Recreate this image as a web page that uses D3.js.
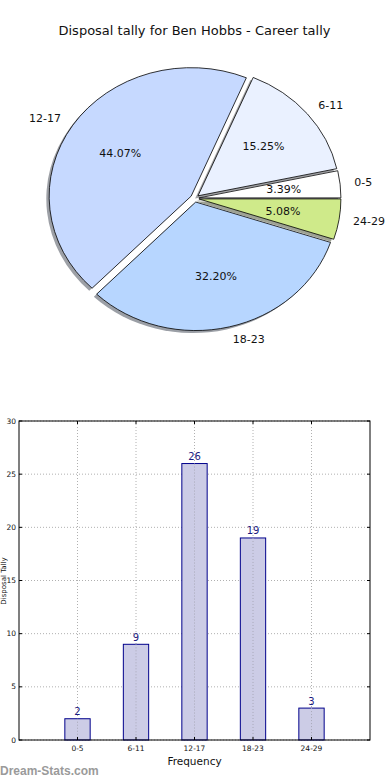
<!DOCTYPE html>
<html>
<head>
<meta charset="utf-8">
<script src="https://cdn.jsdelivr.net/npm/d3@7"></script>
<style>
  html, body { margin: 0; padding: 0; background: #fff; }
  svg { display: block; font-family: "DejaVu Sans", sans-serif; }
</style>
</head>
<body>
<svg id="chart" width="390" height="780"></svg>
<script>
// ---- data ----
const categories = ["0-5", "6-11", "12-17", "18-23", "24-29"];
const tally = [2, 9, 26, 19, 3];
const yTicks = [0, 5, 10, 15, 20, 25, 30];
const titleText = "Disposal tally for Ben Hobbs - Career tally";
const xLabel = "Frequency";
const yLabel = "Disposal Tally";
const watermark = "Dream-Stats.com";

// ---- styles ----
const pieColors = ["#ffffff", "#eaf1ff", "#c6d9ff", "#b7d6ff", "#cfea8a"];
const explodeFrac = 0.03;

const svg = d3.select("#chart");

// title
svg.append("text")
  .attr("x", 194.5).attr("y", 30)
  .attr("text-anchor", "middle")
  .attr("dominant-baseline", "central")
  .attr("font-size", 13)
  .attr("fill", "#111")
  .text(titleText);

// ---- pie (matplotlib-style, CCW from east, elliptical) ----
const cx = 194.7, cy = 198.3, rx = 142, ry = 128.5;
const total = d3.sum(tally);
const pieData = d3.pie().sort(null).value(d => d)(tally);
const arc = d3.arc().innerRadius(0).outerRadius(rx);

const pieG = svg.append("g")
  .attr("transform", `translate(${cx},${cy}) scale(1,${ry / rx})`);

pieData.forEach((d, i) => {
  const t1 = d.startAngle, t2 = d.endAngle;
  const tm = (t1 + t2) / 2;
  const ox = explodeFrac * rx * Math.cos(tm);
  const oy = -explodeFrac * rx * Math.sin(tm);
  const path = arc({ startAngle: Math.PI / 2 - t2, endAngle: Math.PI / 2 - t1 });
  const base = d3.rgb(pieColors[i]);
  const shade = d3.rgb(base.r * 0.3, base.g * 0.3, base.b * 0.3);
  pieG.append("path")
    .attr("d", path)
    .attr("transform", `translate(${ox - 0.02 * rx},${oy + 0.02 * rx})`)
    .attr("fill", shade.toString())
    .attr("fill-opacity", 0.5)
    .attr("stroke", "none");
  pieG.append("path")
    .attr("d", path)
    .attr("transform", `translate(${ox},${oy})`)
    .attr("fill", pieColors[i])
    .attr("stroke", "#000")
    .attr("stroke-width", 0.8)
    .attr("stroke-linejoin", "round")
    .attr("vector-effect", "non-scaling-stroke");
});

pieData.forEach((d, i) => {
  const tm = (d.startAngle + d.endAngle) / 2;
  const c = Math.cos(tm), s = Math.sin(tm);
  const lx = cx + (1.1 + explodeFrac) * rx * c;
  const ly = cy - (1.1 + explodeFrac) * ry * s;
  svg.append("text")
    .attr("x", lx).attr("y", ly)
    .attr("text-anchor", lx < cx ? "end" : "start")
    .attr("dominant-baseline", "central")
    .attr("font-size", 11)
    .attr("fill", "#111")
    .text(categories[i]);
  const px = cx + (0.6 + explodeFrac) * rx * c;
  const py = cy - (0.6 + explodeFrac) * ry * s;
  svg.append("text")
    .attr("x", px).attr("y", py)
    .attr("text-anchor", "middle")
    .attr("dominant-baseline", "central")
    .attr("font-size", 11)
    .attr("fill", "#111")
    .text((tally[i] / total * 100).toFixed(2) + "%");
});

// ---- bar chart ----
const pLeft = 19, pRight = 370, pTop = 421, pBottom = 740;
const x = d3.scaleLinear().domain([-1, categories.length]).range([pLeft, pRight]);
const y = d3.scaleLinear().domain([0, 30]).range([pBottom, pTop]);
const barW = 0.45;

const bg = svg.append("g");

// grid
bg.selectAll("line.hgrid").data(yTicks).join("line")
  .attr("x1", pLeft).attr("x2", pRight)
  .attr("y1", d => y(d)).attr("y2", d => y(d))
  .attr("stroke", "#b0b0b0").attr("stroke-width", 1)
  .attr("stroke-dasharray", "1,2");
bg.selectAll("line.vgrid").data(categories).join("line")
  .attr("x1", (d, i) => x(i)).attr("x2", (d, i) => x(i))
  .attr("y1", pTop).attr("y2", pBottom)
  .attr("stroke", "#b0b0b0").attr("stroke-width", 1)
  .attr("stroke-dasharray", "1,2");

// bars
bg.selectAll("rect.bar").data(tally).join("rect")
  .attr("x", (d, i) => x(i - barW / 2) + 0.5)
  .attr("width", (d, i) => x(i + barW / 2) - x(i - barW / 2) - 1)
  .attr("y", d => y(d))
  .attr("height", d => pBottom - y(d))
  .attr("fill", "#cccce6")
  .attr("stroke", "#00008b")
  .attr("stroke-width", 1);

// grid over bars
bg.selectAll("line.vgrid2").data(categories).join("line")
  .attr("x1", (d, i) => x(i)).attr("x2", (d, i) => x(i))
  .attr("y1", (d, i) => y(tally[i])).attr("y2", pBottom)
  .attr("stroke", "#a8a8b8").attr("stroke-width", 1)
  .attr("stroke-dasharray", "1,2");

// value labels
bg.selectAll("text.val").data(tally).join("text")
  .attr("x", (d, i) => x(i))
  .attr("y", d => y(d) - 7)
  .attr("text-anchor", "middle")
  .attr("dominant-baseline", "central")
  .attr("font-size", 10)
  .attr("fill", "#1a1a80")
  .text(d => d);

// frame
bg.append("rect")
  .attr("x", pLeft).attr("y", pTop)
  .attr("width", pRight - pLeft).attr("height", pBottom - pTop)
  .attr("fill", "none").attr("stroke", "#000").attr("stroke-width", 1);

// ticks (inward, all sides)
yTicks.forEach(t => {
  bg.append("line").attr("x1", pLeft).attr("x2", pLeft + 3).attr("y1", y(t)).attr("y2", y(t)).attr("stroke", "#000");
  bg.append("line").attr("x1", pRight - 3).attr("x2", pRight).attr("y1", y(t)).attr("y2", y(t)).attr("stroke", "#000");
});
categories.forEach((c, i) => {
  bg.append("line").attr("x1", x(i)).attr("x2", x(i)).attr("y1", pBottom).attr("y2", pBottom - 3).attr("stroke", "#000");
  bg.append("line").attr("x1", x(i)).attr("x2", x(i)).attr("y1", pTop).attr("y2", pTop + 3).attr("stroke", "#000");
});

// tick labels
bg.selectAll("text.yt").data(yTicks).join("text")
  .attr("x", pLeft - 3).attr("y", d => y(d))
  .attr("text-anchor", "end")
  .attr("dominant-baseline", "central")
  .attr("font-size", 7.5)
  .attr("fill", "#111")
  .text(d => d);
bg.selectAll("text.xt").data(categories).join("text")
  .attr("x", (d, i) => x(i)).attr("y", pBottom + 8)
  .attr("text-anchor", "middle")
  .attr("dominant-baseline", "central")
  .attr("font-size", 7.5)
  .attr("fill", "#111")
  .text(d => d);

// axis labels
svg.append("text")
  .attr("x", (pLeft + pRight) / 2).attr("y", 761)
  .attr("text-anchor", "middle")
  .attr("dominant-baseline", "central")
  .attr("font-size", 10.5)
  .attr("fill", "#111")
  .text(xLabel);
svg.append("text")
  .attr("transform", "translate(5.6,581) rotate(-90)")
  .attr("text-anchor", "middle")
  .attr("font-size", 7)
  .attr("fill", "#111")
  .text(yLabel);

// watermark
svg.append("text")
  .attr("x", 0).attr("y", 775)
  .attr("font-family", "'Liberation Sans', Arial, sans-serif")
  .attr("font-size", 12)
  .attr("font-weight", "bold")
  .attr("fill", "#9a9a9a")
  .text(watermark);
</script>
</body>
</html>
